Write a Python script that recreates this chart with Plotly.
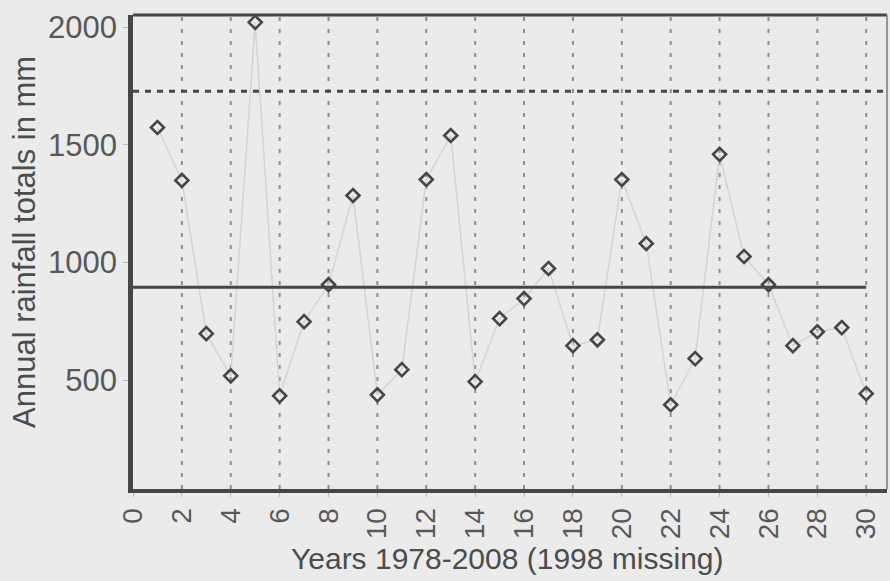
import plotly.graph_objects as go

# Annual rainfall totals, 1978-2008 (1998 missing), indexed 1..30
year_index = list(range(1, 31))
rainfall_mm = [1574, 1349, 698, 519, 2021, 434, 749, 906, 1285, 438,
               545, 1353, 1540, 494, 762, 847, 975, 647, 672, 1353,
               1081, 396, 592, 1460, 1026, 906, 647, 706, 724, 443]

mean_level = 895
upper_level = 1728

x_ticks = list(range(0, 31, 2))
y_ticks = [500, 1000, 1500, 2000]

x_title = "Years 1978-2008 (1998 missing)"
y_title = "Annual rainfall totals in mm"

ink = "#464646"
text_col = "#585858"
title_col = "#4c4c4c"
font_family = "Liberation Sans, Arial, sans-serif"

W, H = 890, 581
M = dict(l=133, r=3, t=15, b=92)

fig = go.Figure()

# faint connecting trace
fig.add_trace(go.Scatter(
    x=year_index, y=rainfall_mm, mode="lines",
    line=dict(color="#d4d4d4", width=1.5),
    hoverinfo="skip", showlegend=False,
))

# open diamond markers
fig.add_trace(go.Scatter(
    x=year_index, y=rainfall_mm, mode="markers",
    marker=dict(symbol="diamond-open", size=10, color=ink,
                line=dict(width=2.6, color=ink)),
    showlegend=False,
))

# vertical dotted grid at even years
for xv in x_ticks[1:]:
    fig.add_shape(type="line", xref="x", yref="paper",
                  x0=xv, x1=xv, y0=0, y1=1,
                  line=dict(color="#8e8e8e", width=2, dash="4px,8px"),
                  layer="below")

# mean line and upper threshold line
fig.add_shape(type="line", xref="x", yref="y",
              x0=0, x1=30, y0=mean_level, y1=mean_level,
              line=dict(color=ink, width=3))
fig.add_shape(type="line", xref="paper", yref="y",
              x0=0, x1=1, y0=upper_level, y1=upper_level,
              line=dict(color=ink, width=3, dash="6px,6px"))

# frame: heavy top, lighter right
fig.add_shape(type="line", xref="paper", yref="paper",
              x0=0, x1=1, y0=1, y1=1, line=dict(color=ink, width=3))
fig.add_shape(type="line", xref="paper", yref="paper",
              x0=1, x1=1, y0=0, y1=1, line=dict(color="#7a7a7a", width=1.5))

fig.update_xaxes(
    range=[0, 30.85], tickvals=x_ticks, ticktext=[str(v) for v in x_ticks],
    tickangle=-90, showgrid=False, zeroline=False,
    showline=True, linecolor=ink, linewidth=4,
    ticks="outside", ticklen=4, tickcolor="#bdbdbd",
    tickfont=dict(family=font_family, size=28, color=text_col),
)
fig.update_yaxes(
    range=[38, 2052], tickvals=y_ticks, ticktext=[str(v) for v in y_ticks],
    showgrid=False, zeroline=False,
    showline=True, linecolor=ink, linewidth=4.5,
    ticks="outside", ticklen=5, tickcolor="#bdbdbd",
    tickfont=dict(family=font_family, size=31, color=text_col),
)

# axis titles placed as paper-anchored annotations
plot_w = W - M["l"] - M["r"]
plot_h = H - M["t"] - M["b"]
fig.add_annotation(
    text=x_title, xref="paper", yref="paper", showarrow=False,
    x=(507 - M["l"]) / plot_w, y=-(558 - (H - M["b"])) / plot_h,
    xanchor="center", yanchor="middle",
    font=dict(family=font_family, size=30, color=title_col),
)
fig.add_annotation(
    text=y_title, xref="paper", yref="paper", showarrow=False, textangle=-90,
    x=-(M["l"] - 24) / plot_w, y=((H - M["b"]) - 242) / plot_h,
    xanchor="center", yanchor="middle",
    font=dict(family=font_family, size=31, color=title_col),
)

fig.update_layout(
    width=W, height=H, margin=M,
    paper_bgcolor="#ebebeb", plot_bgcolor="#ebebeb",
)

fig.write_html("out.html")
